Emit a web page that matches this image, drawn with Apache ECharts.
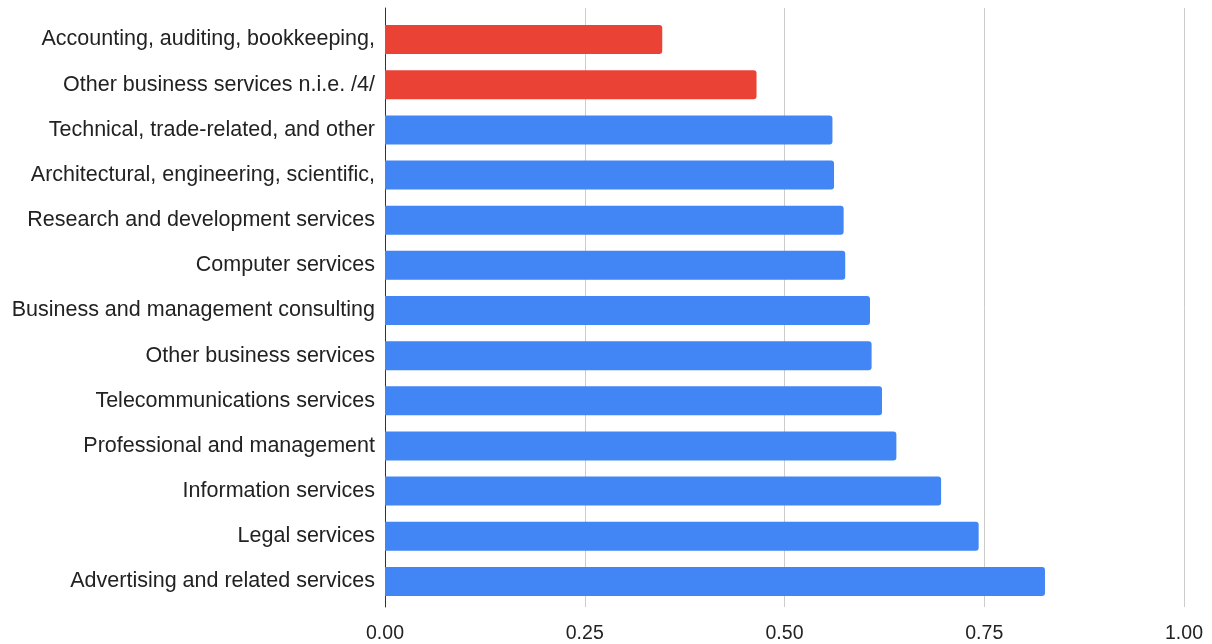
<!DOCTYPE html>
<html>
<head>
<meta charset="utf-8">
<style>
  html, body { margin: 0; padding: 0; background: #fff; }
  #chart { width: 1212px; height: 644px; }
</style>
<script src="https://cdn.jsdelivr.net/npm/echarts@6/dist/echarts.min.js"></script>
</head>
<body>
<div id="chart"></div>
<script>
// Service categories, top to bottom
const categories = [
  'Accounting, auditing, bookkeeping,',
  'Other business services n.i.e. /4/',
  'Technical, trade-related, and other',
  'Architectural, engineering, scientific,',
  'Research and development services',
  'Computer services',
  'Business and management consulting',
  'Other business services',
  'Telecommunications services',
  'Professional and management',
  'Information services',
  'Legal services',
  'Advertising and related services'
];

const values = [
  0.347, 0.465, 0.560, 0.562, 0.574, 0.576, 0.607,
  0.609, 0.622, 0.640, 0.696, 0.743, 0.826
];

// Categories drawn in red; the rest are blue
const highlighted = [true, true, false, false, false, false, false,
  false, false, false, false, false, false];

const xTicks = [0, 0.25, 0.5, 0.75, 1];

const RED = '#EA4335';
const BLUE = '#4285F4';

const chart = echarts.init(document.getElementById('chart'), null, { renderer: 'canvas' });

const family = 'Liberation Sans, Arial, sans-serif';

chart.setOption({
  animation: false,
  backgroundColor: '#fff',
  grid: [
    // frame: gridlines, value labels, baseline
    { left: 385, right: 28, top: 8, bottom: 33 },
    // bars
    { left: 385, right: 28, top: 17, bottom: 40 }
  ],
  xAxis: [
    {
      gridIndex: 0,
      type: 'value',
      min: xTicks[0],
      max: xTicks[xTicks.length - 1],
      interval: 0.25,
      axisLine: { show: false },
      axisTick: { show: false },
      splitLine: { show: true, lineStyle: { color: '#cccccc', width: 1 } },
      axisLabel: {
        fontFamily: family, fontSize: 19.5, color: '#222',
        margin: 17, formatter: v => v.toFixed(2)
      }
    },
    {
      gridIndex: 1,
      type: 'value',
      min: xTicks[0],
      max: xTicks[xTicks.length - 1],
      show: false
    }
  ],
  yAxis: [
    {
      gridIndex: 0,
      type: 'value',
      min: 0,
      max: 1,
      axisLine: { show: true, onZero: false, lineStyle: { color: '#333', width: 1 } },
      axisTick: { show: false },
      axisLabel: { show: false },
      splitLine: { show: false }
    },
    {
      gridIndex: 1,
      type: 'category',
      inverse: true,
      data: categories,
      axisLine: { show: false },
      axisTick: { show: false },
      splitLine: { show: false },
      axisLabel: {
        fontFamily: family, fontSize: 21.5, color: '#222', margin: 10,
        padding: [3, 0, 0, 0]
      }
    }
  ],
  series: [
    {
      type: 'bar',
      xAxisIndex: 1,
      yAxisIndex: 1,
      barWidth: 29,
      data: values.map((v, i) => ({
        value: v,
        itemStyle: { color: highlighted[i] ? RED : BLUE }
      })),
      itemStyle: { borderRadius: [0, 3, 3, 0] }
    }
  ]
});
</script>
</body>
</html>
